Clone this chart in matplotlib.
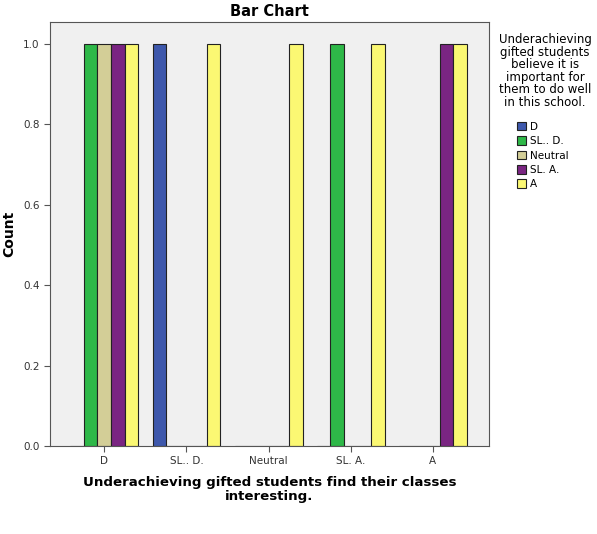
import matplotlib
matplotlib.use("Agg")
import matplotlib.pyplot as plt
import numpy as np
from matplotlib.patches import Patch

categories = ["D", "SL.. D.", "Neutral", "SL. A.", "A"]
series_names = ["D", "SL.. D.", "Neutral", "SL. A.", "A"]
counts_D = [0, 1, 0, 0, 0]
counts_SLD = [1, 0, 0, 1, 0]
counts_Neutral = [1, 0, 0, 0, 0]
counts_SLA = [1, 0, 0, 0, 1]
counts_A = [1, 1, 1, 1, 1]
series_values = [counts_D, counts_SLD, counts_Neutral, counts_SLA, counts_A]
colors = ["#3e58ac", "#2eb848", "#d3ce97", "#7a2582", "#fbf873"]
y_ticks = [0.0, 0.2, 0.4, 0.6, 0.8, 1.0]

fig = plt.figure(figsize=(5.97, 5.34), dpi=100)
ax = fig.add_axes([0.0838, 0.1648, 0.735, 0.794])
ax.set_facecolor("#f0f0f0")

x = np.arange(len(categories))
w = 0.165
for i, (name, vals, c) in enumerate(zip(series_names, series_values, colors)):
    ax.bar(x + (i - 2) * w, vals, width=w, color=c, edgecolor="#222222", linewidth=0.8)

ax.set_xlim(-0.66, 4.68)
ax.set_ylim(0, 1.055)
ax.set_xticks(x)
ax.set_xticklabels(categories, fontsize=7.5, color="#333333")
ax.set_yticks(y_ticks)
ax.set_yticklabels([f"{v:.1f}" for v in y_ticks], fontsize=7.5, color="#333333")
ax.tick_params(length=4, color="#555555", width=0.8)
for s in ax.spines.values():
    s.set_color("#555555")
    s.set_linewidth(0.8)

ax.set_title("Bar Chart", fontsize=10.5, fontweight="bold", pad=4)
ax.set_ylabel("Count", fontsize=10, fontweight="bold")
ax.yaxis.set_label_coords(-0.078, 0.5)
ax.set_xlabel("Underachieving gifted students find their classes\ninteresting.",
              fontsize=9.6, fontweight="bold", labelpad=7, linespacing=1.05)

fig.text(0.913, 0.938, "Underachieving\ngifted students\nbelieve it is\nimportant for\nthem to do well\nin this school.",
         ha="center", va="top", fontsize=8.5, linespacing=0.95)

handles = [Patch(facecolor=c, edgecolor="#222222", linewidth=0.8) for c in colors]
fig.legend(handles, series_names, loc="upper left", bbox_to_anchor=(0.866, 0.772),
           frameon=False, fontsize=7.5, handlelength=0.9, handleheight=0.9,
           handletextpad=0.3, labelspacing=0.42, borderaxespad=0, borderpad=0)

fig.savefig("out.png", dpi=100)
